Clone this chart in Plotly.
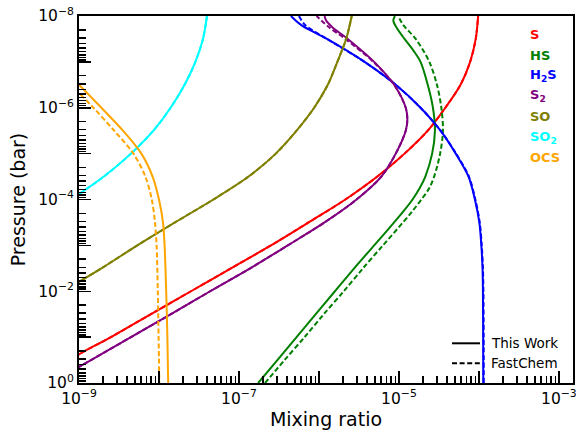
import numpy as np
import plotly.graph_objects as go

# ---------------- data (log10 values) ----------------
# S  (This Work / FastChem overlap)
S_logP = [0, -0.5, -1.0, -1.5, -2.0, -2.5, -3.0, -3.5, -4.0, -4.5, -5.0, -5.5, -6.0, -6.5, -7.0, -7.5, -8.0]
S_logX = [-9.39, -9.11, -8.6, -8.1, -7.6, -7.1, -6.6, -6.13, -5.67, -5.27, -4.93, -4.64, -4.42, -4.23, -4.11, -4.04, -4.01]
S_fc_logP = S_logP
S_fc_logX = S_logX

# HS
HS_logP = [0, -0.5, -1.0, -1.5, -2.0, -2.5, -3.0, -3.5, -3.75, -4.0, -4.25, -4.5, -5.0, -5.5, -6.0, -6.5, -7.0, -7.25, -7.5, -7.75, -7.9, -8.0]
HS_logX = [-6.76, -6.52, -6.28, -6.04, -5.80, -5.56, -5.31, -5.06, -4.94, -4.83, -4.74, -4.67, -4.585, -4.55, -4.575, -4.64, -4.73, -4.82, -4.93, -5.03, -5.07, -5.05]
HS_fc_logP = [0, -0.5, -1.0, -1.5, -2.0, -2.5, -3.0, -3.5, -3.75, -4.0, -4.25, -4.5, -5.0, -5.5, -6.0, -6.5, -7.0, -7.5, -7.8, -8.0]
HS_fc_logX = [-6.675, -6.43, -6.18, -5.94, -5.69, -5.45, -5.2, -4.95, -4.83, -4.72, -4.62, -4.56, -4.485, -4.45, -4.47, -4.525, -4.62, -4.79, -4.945, -5.01]

# H2S
H2S_logP = [0, -1.0, -2.0, -2.5, -3.0, -3.5, -4.0, -4.5, -5.0, -5.5, -6.0, -6.5, -7.0, -7.5, -7.8, -8.0]
H2S_logX = [-3.946, -3.947, -3.95, -3.955, -3.97, -3.995, -4.05, -4.13, -4.29, -4.48, -4.73, -5.04, -5.43, -5.9, -6.22, -6.35]
H2S_fc_logP = H2S_logP
H2S_fc_logX = [-3.94, -3.941, -3.944, -3.95, -3.965, -3.99, -4.045, -4.125, -4.285, -4.48, -4.73, -5.04, -5.43, -5.9, -6.17, -6.25]

# S2
S2_logP = [0, -0.5, -1.0, -1.5, -2.0, -2.5, -3.0, -3.5, -4.0, -4.5, -5.0, -5.5, -5.75, -6.0, -6.5, -7.0, -7.5, -7.75, -7.9, -8.0]
S2_logX = [-9.36, -8.85, -8.35, -7.85, -7.36, -6.86, -6.39, -5.93, -5.53, -5.22, -5.04, -4.915, -4.895, -4.915, -5.06, -5.31, -5.64, -5.83, -5.91, -5.93]
S2_fc_logP = [0, -0.5, -1.0, -1.5, -2.0, -2.5, -3.0, -3.5, -4.0, -4.5, -5.0, -5.5, -5.75, -6.0, -6.5, -7.0, -7.5, -7.75, -8.0]
S2_fc_logX = [-9.36, -8.85, -8.35, -7.85, -7.36, -6.86, -6.39, -5.93, -5.53, -5.22, -5.04, -4.915, -4.895, -4.915, -5.06, -5.32, -5.67, -5.87, -6.03]

# SO
SO_logP = [-1.5, -2.0, -2.5, -3.0, -3.5, -4.0, -4.5, -5.0, -5.5, -6.0, -6.5, -7.0, -7.5, -8.0]
SO_logX = [-9.69, -9.2, -8.72, -8.27, -7.8, -7.32, -6.88, -6.54, -6.28, -6.06, -5.89, -5.77, -5.66, -5.59]

# SO2
SO2_logP = [-3.5, -4.0, -4.5, -5.0, -5.5, -6.0, -6.5, -7.0, -7.5, -8.0]
SO2_logX = [-9.55, -9.1, -8.69, -8.35, -8.07, -7.855, -7.68, -7.545, -7.45, -7.40]

# OCS
OCS_logP = [-7.5, -7.0, -6.5, -6.0, -5.5, -5.0, -4.5, -4.0, -3.5, -3.0, -2.0, -1.0, 0]
OCS_logX = [-9.55, -9.27, -9.0, -8.72, -8.45, -8.22, -8.08, -8.0, -7.95, -7.93, -7.91, -7.895, -7.885]
OCS_fc_logP = [-7.0, -6.5, -6.0, -5.5, -5.0, -4.5, -4.0, -3.5, -3.0, -2.0, -1.0, 0]
OCS_fc_logX = [-9.38, -9.1, -8.82, -8.56, -8.32, -8.17, -8.09, -8.05, -8.03, -8.015, -8.005, -7.996]

species = ["S", "HS", "H2S", "S2", "SO", "SO2", "OCS"]
labels = ["S", "HS", "H<sub>2</sub>S", "S<sub>2</sub>", "SO", "SO<sub>2</sub>", "OCS"]
colors = ["#ff0000", "#008000", "#0000ff", "#800080", "#808000", "#00ffff", "#ffa500"]

solid = {
    "S": (S_logP, S_logX), "HS": (HS_logP, HS_logX), "H2S": (H2S_logP, H2S_logX),
    "S2": (S2_logP, S2_logX), "SO": (SO_logP, SO_logX), "SO2": (SO2_logP, SO2_logX),
    "OCS": (OCS_logP, OCS_logX),
}
dashed = {
    "S": (S_fc_logP, S_fc_logX), "HS": (HS_fc_logP, HS_fc_logX), "H2S": (H2S_fc_logP, H2S_fc_logX),
    "S2": (S2_fc_logP, S2_fc_logX), "SO": (SO_logP, SO_logX), "SO2": (SO2_logP, SO2_logX),
    "OCS": (OCS_fc_logP, OCS_fc_logX),
}

x_major = [-9, -8, -7, -6, -5, -4, -3]
x_ticktext = ["10<sup>−9</sup>", "", "10<sup>−7</sup>", "", "10<sup>−5</sup>", "", "10<sup>−3</sup>"]
y_major = [-8, -7, -6, -5, -4, -3, -2, -1, 0]
y_ticktext = ["10<sup>−8</sup>", "", "10<sup>−6</sup>", "", "10<sup>−4</sup>", "", "10<sup>−2</sup>", "", "10<sup>0</sup>"]

# ---------------- figure ----------------
W, H = 576, 435
L, R, T, B = 79, 3, 16, 52
FONT = "DejaVu Sans"
DASH = "5px,2.6px"

fig = go.Figure()
for sp, col in zip(species, colors):
    for dct, dash in ((solid, "solid"), (dashed, DASH)):
        lp, lx = dct[sp]
        fig.add_trace(go.Scatter(
            x=10 ** np.array(lx, dtype=float), y=10 ** np.array(lp, dtype=float),
            mode="lines", showlegend=False, hoverinfo="skip",
            line=dict(color=col, width=2, dash=dash, shape="spline", smoothing=0.9),
        ))

xr = [-9, np.log10(1.5e-3)]
yr = [0, -8]

minor_x = [m * 10.0 ** d for d in range(-9, -2) for m in range(2, 10) if m * 10.0 ** d < 1.5e-3]
minor_y = [m * 10.0 ** d for d in range(-8, 0) for m in range(2, 10)]

tickfont = dict(family=FONT, size=15.5, color="black")

fig.update_layout(
    width=W, height=H, template="none",
    margin=dict(l=L, r=R, t=T, b=B, pad=0),
    paper_bgcolor="white", plot_bgcolor="white",
    font=dict(family=FONT, color="black"),
    showlegend=False,
    xaxis=dict(
        type="log", range=xr, showgrid=False, zeroline=False, automargin=False,
        showline=True, linecolor="black", linewidth=2, mirror=True,
        tickmode="array", tickvals=[10.0 ** v for v in x_major], ticktext=x_ticktext,
        ticklabeloverflow="allow",
        ticks="inside", ticklen=12, tickwidth=1.5, tickcolor="black", tickfont=tickfont,
        minor=dict(tickmode="array", tickvals=minor_x, ticks="inside", ticklen=7, tickwidth=1.5, tickcolor="black", showgrid=False),
        title=dict(text="Mixing ratio", font=dict(family=FONT, size=19), standoff=6),
    ),
    yaxis=dict(
        type="log", range=yr, showgrid=False, zeroline=False, automargin=False,
        showline=True, linecolor="black", linewidth=2, mirror=True,
        tickmode="array", tickvals=[10.0 ** v for v in y_major], ticktext=y_ticktext,
        ticklabeloverflow="allow",
        ticks="inside", ticklen=12, tickwidth=1.5, tickcolor="black", tickfont=tickfont,
        minor=dict(tickmode="array", tickvals=minor_y, ticks="inside", ticklen=7, tickwidth=1.5, tickcolor="black", showgrid=False),
        title=dict(text="Pressure (bar)", font=dict(family=FONT, size=19), standoff=8),
    ),
    xaxis2=dict(
        type="log", range=xr, overlaying="x", side="top", anchor="y",
        showgrid=False, zeroline=False, showline=False, automargin=False,
        tickmode="array", tickvals=[10.0 ** v for v in x_major], showticklabels=False,
        ticks="inside", ticklen=12, tickwidth=1.5, tickcolor="black",
    ),
    yaxis2=dict(
        type="log", range=yr, overlaying="y", side="right", anchor="x",
        showgrid=False, zeroline=False, showline=False, automargin=False,
        tickmode="array", tickvals=[10.0 ** v for v in y_major], showticklabels=False,
        ticks="inside", ticklen=12, tickwidth=1.5, tickcolor="black",
    ),
)

# species labels (coloured text)
pw, ph = W - L - R, H - T - B
def px(x): return (x - L) / pw
def py(y): return (H - B - y) / ph

label_y = [34.3, 55, 75.3, 95.9, 116.7, 137.3, 157.7]
for lab, col, yy in zip(labels, colors, label_y):
    fig.add_annotation(
        xref="paper", yref="paper", x=px(528), y=py(yy), xanchor="left", yanchor="middle",
        text="<b>" + lab + "</b>", showarrow=False,
        font=dict(family=FONT, size=13, color=col),
    )

# line-style key
key_rows = [("This Work", "solid", 343.3), ("FastChem", DASH, 363.3)]
for txt, dash, yy in key_rows:
    fig.add_shape(type="line", xref="paper", yref="paper",
                  x0=px(452), x1=px(480), y0=py(yy), y1=py(yy),
                  line=dict(color="black", width=2, dash=dash))
    fig.add_annotation(xref="paper", yref="paper", x=px(489), y=py(yy),
                       xanchor="left", yanchor="middle", text=txt, showarrow=False,
                       font=dict(family=FONT, size=13.5, color="black"))

fig.write_html(
    "out.html",
    config={"displayModeBar": False, "staticPlot": True},
    post_script="document.body.style.margin='0';document.body.style.padding='0';document.body.style.overflow='hidden';",
)
